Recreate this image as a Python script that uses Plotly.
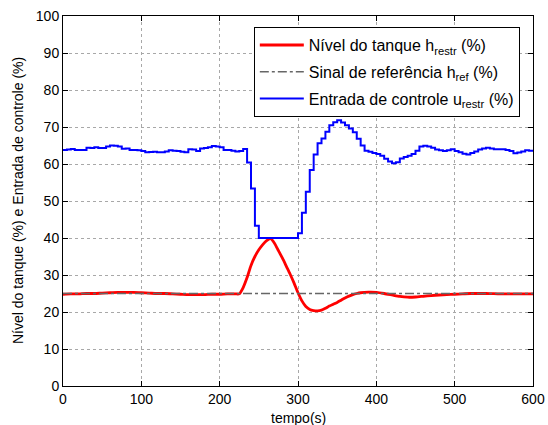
import plotly.graph_objects as go

# Control input u_restr (%), sampled every 5 s (zero-order hold)
t_u = list(range(0, 605, 5))
u_restr = [
    63.8, 63.9, 64.05, 63.8, 63.8, 63.8, 64.4, 64.3, 64.5, 64.3,   # 0-45
    64.3, 64.7, 65.0, 64.9, 64.7, 64.1, 64.2, 63.8, 63.8, 63.7,    # 50-95
    63.5, 63.2, 63.25, 63.3, 63.15, 63.2, 63.4, 63.7, 63.6, 63.5,  # 100-145
    63.3, 63.2, 63.97, 63.9, 63.5, 64.2, 64.3, 64.5, 64.86, 64.7,  # 150-195
    64.5, 63.8, 63.8, 63.6, 63.35, 63.5, 64.05, 60.4, 53.4, 43.3,  # 200-245
    40.0, 40.0, 40.0, 40.0, 40.0, 40.0, 40.0, 40.0, 40.0, 40.0,    # 250-295
    41.3, 46.8, 52.5, 58.4, 62.6, 65.6, 66.9, 68.7, 70.5, 71.3,    # 300-345
    71.8, 71.2, 70.5, 69.6, 68.6, 66.8, 65.0, 63.6, 63.3, 63.0,    # 350-395
    62.7, 62.2, 61.4, 60.7, 60.2, 60.5, 61.5, 61.9, 62.2, 62.7,    # 400-445
    63.6, 64.7, 64.9, 64.7, 64.4, 63.9, 63.7, 63.5, 63.7, 64.0,    # 450-495
    63.5, 63.2, 62.8, 62.6, 63.0, 63.4, 63.9, 64.2, 64.4, 64.2,    # 500-545
    64.0, 64.0, 64.0, 63.8, 63.5, 62.9, 63.1, 63.4, 63.7, 63.6,    # 550-595
    63.5,                                                          # 600
]

# Tank level h_restr (%)
t_h = [0, 10, 20, 30, 40, 50, 60, 70, 80, 90, 100, 110, 120, 130, 140, 150,
       160, 170, 180, 190, 200, 210, 220, 225, 230, 235, 240, 245, 250, 255,
       260, 265, 270, 275, 280, 285, 290, 295, 300, 305, 310, 315, 320, 325,
       330, 335, 340, 345, 350, 355, 360, 365, 370, 375, 380, 390, 400, 410,
       420, 430, 440, 450, 460, 470, 480, 490, 500, 510, 520, 530, 540, 550,
       560, 570, 580, 590, 600]
h_restr = [24.8, 24.9, 24.9, 25.0, 25.0, 25.1, 25.2, 25.3, 25.3, 25.3, 25.2,
           25.1, 25.0, 25.0, 24.9, 24.8, 24.7, 24.7, 24.7, 24.8, 24.8, 24.9,
           24.9, 24.9, 26.6, 29.3, 32.6, 35.0, 36.8, 38.2, 39.3, 39.8, 38.6,
           36.6, 34.6, 32.4, 30.2, 27.8, 25.2, 23.0, 21.5, 20.7, 20.4, 20.3,
           20.5, 21.0, 21.6, 22.1, 22.6, 23.2, 23.8, 24.3, 24.7, 25.0, 25.2,
           25.35, 25.3, 25.0, 24.6, 24.2, 24.0, 24.05, 24.25, 24.45, 24.6,
           24.7, 24.8, 24.9, 25.0, 25.0, 25.0, 24.95, 24.9, 24.9, 24.9, 24.9,
           24.9]

# Reference signal h_ref (%)
t_ref = [0, 600]
h_ref = [25, 25]

x_ticks = [0, 100, 200, 300, 400, 500, 600]
y_ticks = [0, 10, 20, 30, 40, 50, 60, 70, 80, 90, 100]

FONT = "Liberation Sans, Arial, sans-serif"

fig = go.Figure()
fig.add_trace(go.Scatter(
    x=t_h, y=h_restr, mode="lines", legendgroup="a",
    line=dict(color="#ff0000", width=2.8, shape="spline", smoothing=0.6),
    name="Nível do tanque h<sub>restr</sub> (%)"))
fig.add_trace(go.Scatter(
    x=t_ref, y=h_ref, mode="lines", legendgroup="b",
    line=dict(color="#666666", width=1.5, dash="dashdot"),
    name="Sinal de referência h<sub>ref</sub> (%)"))
fig.add_trace(go.Scatter(
    x=t_u, y=u_restr, mode="lines", legendgroup="c",
    line=dict(color="#0000ff", width=2, shape="hv"),
    name="Entrada de controle u<sub>restr</sub> (%)"))

axis_common = dict(
    showline=True, linecolor="black", linewidth=1, mirror="ticks",
    ticks="inside", ticklen=5, tickcolor="black",
    showgrid=True, gridcolor="#a8a8a8", griddash="dot", gridwidth=1,
    zeroline=False, automargin=False,
    tickfont=dict(family=FONT, size=14, color="black"),
)

fig.update_layout(
    width=548, height=425,
    margin=dict(l=63, r=15, t=16, b=39),
    paper_bgcolor="white", plot_bgcolor="white",
    font=dict(family=FONT, size=14, color="black"),
    showlegend=True,
    legend=dict(
        x=0.406, y=0.970, xanchor="left", yanchor="top",
        bgcolor="white", bordercolor="black", borderwidth=1,
        font=dict(family=FONT, size=16, color="black"),
        tracegroupgap=3, itemwidth=44,
    ),
    xaxis=dict(range=[0, 600], tickvals=x_ticks, **axis_common),
    yaxis=dict(range=[0, 100], tickvals=y_ticks, **axis_common),
    annotations=[
        dict(text="tempo(s)", xref="paper", yref="paper",
             x=0.5, y=-(418 - 386) / 370, xanchor="center", yanchor="middle",
             showarrow=False, font=dict(family=FONT, size=14, color="black")),
        dict(text="Nível do tanque (%) e Entrada de controle (%)",
             xref="paper", yref="paper", textangle=-90,
             x=-(63 - 18) / 470, y=0.5, xanchor="center", yanchor="middle",
             showarrow=False, font=dict(family=FONT, size=14, color="black")),
    ],
)

fig.write_html("out.html")
